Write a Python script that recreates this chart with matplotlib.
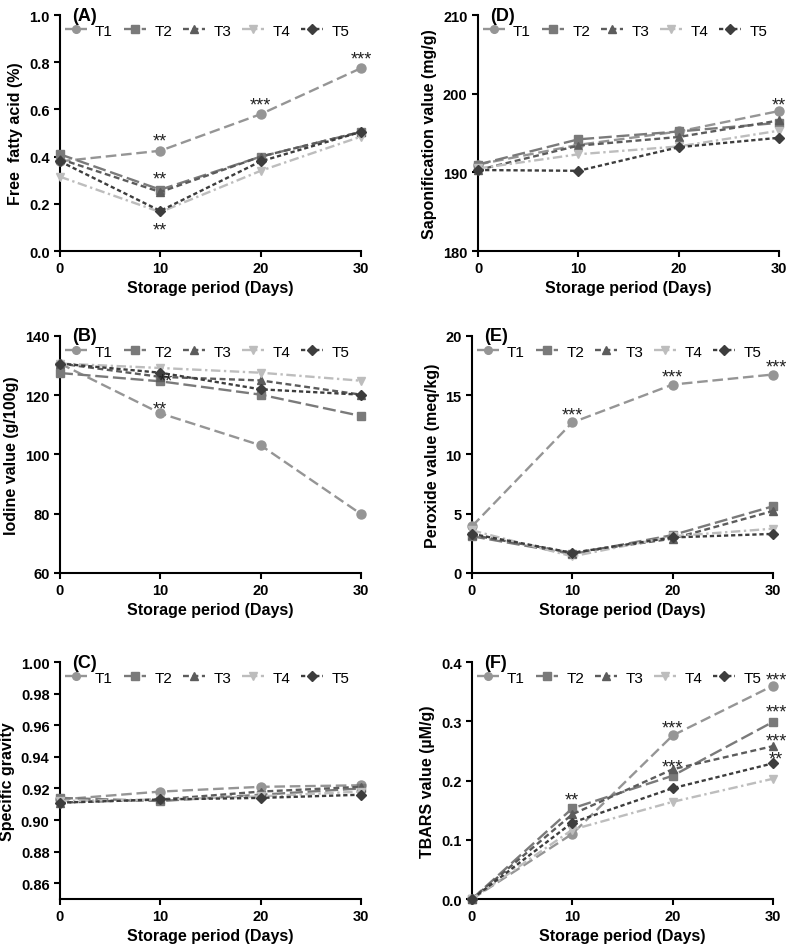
import matplotlib
matplotlib.use("Agg")
import matplotlib.pyplot as plt

plt.rcParams["font.family"] = ["Liberation Sans", "DejaVu Sans"]

days = [0, 10, 20, 30]
treatments = ["T1", "T2", "T3", "T4", "T5"]

# (A) free fatty acid (%)
ffa = {
    "T1": [0.38, 0.425, 0.58, 0.775],
    "T2": [0.41, 0.26, 0.40, 0.505],
    "T3": [0.39, 0.25, 0.40, 0.505],
    "T4": [0.315, 0.165, 0.34, 0.485],
    "T5": [0.38, 0.17, 0.38, 0.505],
}
# (B) iodine value (g/100g)
iodine = {
    "T1": [130.7, 113.9, 103.1, 79.9],
    "T2": [127.5, 124.7, 120.2, 113.0],
    "T3": [130.7, 126.2, 125.0, 120.2],
    "T4": [130.7, 129.2, 127.6, 124.9],
    "T5": [130.7, 127.6, 122.0, 120.2],
}
# (C) specific gravity
sg = {
    "T1": [0.913, 0.918, 0.921, 0.922],
    "T2": [0.914, 0.912, 0.916, 0.920],
    "T3": [0.911, 0.913, 0.918, 0.921],
    "T4": [0.912, 0.913, 0.915, 0.918],
    "T5": [0.911, 0.913, 0.914, 0.916],
}
# (D) saponification value (mg/g)
sap = {
    "T1": [191.0, 193.5, 195.2, 197.8],
    "T2": [191.0, 194.2, 195.2, 196.3],
    "T3": [190.3, 193.4, 194.5, 196.6],
    "T4": [190.5, 192.3, 193.3, 195.3],
    "T5": [190.3, 190.2, 193.2, 194.4],
}
# (E) peroxide value (meq/kg)
perox = {
    "T1": [3.94, 12.7, 15.9, 16.75],
    "T2": [3.1, 1.6, 3.2, 5.63],
    "T3": [3.2, 1.7, 2.9, 5.23],
    "T4": [3.6, 1.4, 3.1, 3.74],
    "T5": [3.3, 1.7, 3.0, 3.3],
}
# (F) TBARS value (uM/g)
tbars = {
    "T1": [0.0, 0.11, 0.276, 0.36],
    "T2": [0.0, 0.153, 0.208, 0.299],
    "T3": [0.0, 0.143, 0.219, 0.258],
    "T4": [0.0, 0.117, 0.164, 0.203],
    "T5": [0.0, 0.129, 0.187, 0.229],
}

# significance marks: (day, y, text)
marks_a = [(10, 0.465, "**"), (10, 0.305, "**"), (10, 0.09, "**"),
           (20, 0.62, "***"), (30, 0.815, "***")]
marks_b = [(10, 115.5, "**"), (10.5, 124.8, "**")]
marks_c = []
marks_d = [(30, 198.6, "**")]
marks_e = [(10, 13.3, "***"), (20, 16.5, "***"), (30.3, 17.4, "***")]
marks_f = [(10, 0.167, "**"), (20, 0.288, "***"), (20, 0.223, "***"),
           (30.3, 0.369, "***"), (30.3, 0.316, "***"),
           (30.3, 0.266, "***"), (30.3, 0.237, "**")]

styles = {
    "T1": dict(color="#959595", marker="o", ls=(0, (4.5, 2)), ms=6.5),
    "T2": dict(color="#7a7a7a", marker="s", ls=(0, (5.5, 2)), ms=6),
    "T3": dict(color="#5c5c5c", marker="^", ls=(0, (2.5, 1.5)), ms=6),
    "T4": dict(color="#bdbdbd", marker="v", ls=(0, (4, 1.5, 1, 1.5)), ms=6),
    "T5": dict(color="#3d3d3d", marker="D", ls=(0, (1.8, 1.2)), ms=5.5),
}

panels = [
    # data, ylim, yticks, fmt, ylabel, letter, marks, [left, bottom, width, height]
    (ffa, (0, 1.0), [0, 0.2, 0.4, 0.6, 0.8, 1.0], "{:.1f}", "Free  fatty acid (%)", "(A)", marks_a,
     [0.0762, 0.7333, 0.3825, 0.2497]),
    (iodine, (60, 140), [60, 80, 100, 120, 140], "{:.0f}", "Iodine value (g/100g)", "(B)", marks_b,
     [0.0762, 0.3926, 0.3825, 0.2508]),
    (sg, (0.85, 1.0), [0.86, 0.88, 0.90, 0.92, 0.94, 0.96, 0.98, 1.00], "{:.2f}", "Specific gravity", "(C)", marks_c,
     [0.0762, 0.0476, 0.3825, 0.2508]),
    (sap, (180, 210), [180, 190, 200, 210], "{:.0f}", "Saponification value (mg/g)", "(D)", marks_d,
     [0.6074, 0.7333, 0.3824, 0.2497]),
    (perox, (0, 20), [0, 5, 10, 15, 20], "{:.0f}", "Peroxide value (meq/kg)", "(E)", marks_e,
     [0.5997, 0.3926, 0.3825, 0.2508]),
    (tbars, (0, 0.4), [0, 0.1, 0.2, 0.3, 0.4], "{:.1f}", "TBARS value (\u00b5M/g)", "(F)", marks_f,
     [0.5997, 0.0476, 0.3825, 0.2508]),
]

fig = plt.figure(figsize=(7.87, 9.45), dpi=100)

for data, ylim, yticks, fmt, ylabel, letter, marks, rect in panels:
    ax = fig.add_axes(rect)
    for t in treatments:
        st = styles[t]
        ax.plot(days, data[t], color=st["color"], ls=st["ls"], lw=1.7,
                marker=st["marker"], ms=st["ms"], mfc=st["color"], mec=st["color"],
                label=t, clip_on=False, zorder=3)
    for x, y, s in marks:
        ax.text(x, y, s, ha="center", va="center", fontsize=13, color="#222222")

    ax.set_xlim(0, 30)
    ax.set_ylim(*ylim)
    ax.set_xticks(days)
    ax.set_yticks(yticks)
    ax.set_yticklabels([fmt.format(v) for v in yticks])
    for side in ["top", "right"]:
        ax.spines[side].set_visible(False)
    for side in ["left", "bottom"]:
        ax.spines[side].set_linewidth(1.5)
    ax.tick_params(direction="out", length=4, width=1.5, labelsize=10.5)
    for lab in ax.get_xticklabels() + ax.get_yticklabels():
        lab.set_fontweight("bold")
    ax.set_xlabel("Storage period (Days)", fontsize=11.5, fontweight="bold", labelpad=3)
    ax.set_ylabel(ylabel, fontsize=11.5, fontweight="bold", labelpad=4)
    ax.text(0.04, 1.0, letter, transform=ax.transAxes, fontsize=13, fontweight="bold",
            ha="left", va="center")
    ax.legend(loc="upper left", bbox_to_anchor=(0.01, 0.97), ncol=5, frameon=False,
              fontsize=11, handlelength=1.45, handletextpad=0.55, columnspacing=0.7,
              borderaxespad=0, borderpad=0.1, markerscale=0.85)

fig.savefig("out.png", dpi=100)
